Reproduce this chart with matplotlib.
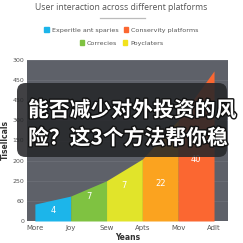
import matplotlib
matplotlib.use('Agg')
import matplotlib.pyplot as plt
from matplotlib.patches import FancyBboxPatch, Patch
import matplotlib.patheffects as pe

categories = ['More', 'Joy', 'Sew', 'Apts', 'Mov', 'Adlt']
values = [42, 62, 100, 154, 250, 373]
seg_labels = ['4', '7', '7', '22', '40']
label_y = [25, 60, 89, 92, 154]
seg_colors = ['#1cb5ea', '#7fc241', '#e1e42a', '#fba31f', '#fb6731']
ytick_vals = [0, 50, 100, 150, 200, 250, 300, 350, 400]
ytick_labels = ['0', '60', '250', '200', '150', '300', '450', '450', '300']
legend_row1 = [('Experitle ant sparies', '#1cb5ea'), ('Conservity platforms', '#fb6731')]
legend_row2 = [('Correcies', '#7fc241'), ('Poyclaters', '#f2e21c')]
overlay_lines = ['能否减少对外投资的风', '险？这3个方法帮你稳']

W = 243
fig = plt.figure(figsize=(2.43, 2.43), dpi=100)
fig.patch.set_facecolor('white')

ax = fig.add_axes([27 / W, 1 - 221 / W, 201 / W, 161 / W])
ax.set_facecolor('#5e6169')
xs = list(range(len(categories)))
for i in range(len(seg_colors)):
    ax.fill_between([xs[i], xs[i + 1]], [values[i], values[i + 1]], color=seg_colors[i], lw=0, zorder=2)
    ax.text(xs[i] + 0.5, label_y[i], seg_labels[i], color='white', fontsize=6,
            ha='center', va='center', zorder=3)
ax.set_xlim(-0.22, 5.39)
ax.set_ylim(0, 400)
ax.set_xticks(xs)
ax.set_xticklabels(categories)
ax.set_yticks(ytick_vals)
ax.set_yticklabels(ytick_labels)
ax.tick_params(length=0, labelsize=4.5, labelcolor='#555555', pad=2)
ax.tick_params(axis='x', labelsize=5, pad=3)
ax.grid(axis='y', color='#6c6f77', lw=0.6, zorder=1)
ax.set_axisbelow(True)
for s in ax.spines.values():
    s.set_visible(False)
ax.set_xlabel('Yeans', fontsize=5.5, fontweight='bold', color='#333333', labelpad=1)
ax.set_ylabel('Tisellcals', fontsize=5.5, fontweight='bold', color='#333333', labelpad=2)

# title and underline
fig.text(0.5, 1 - 8 / W, 'User interaction across different platforms', ha='center', va='center',
         fontsize=6.2, color='#555555', family='Open Sans')
fig.add_artist(plt.Line2D([100 / W, 145 / W], [1 - 18 / W] * 2, color='#bbbbbb', lw=0.9))

# legend rows
for row, yy in [(legend_row1, 30), (legend_row2, 43)]:
    handles = [Patch(color=c, label=t) for t, c in row]
    fig.legend(handles=handles, loc='center', bbox_to_anchor=(0.5, 1 - yy / W), ncol=2,
               frameon=False, fontsize=4.6, handlelength=0.7, handleheight=0.7,
               handletextpad=0.4, columnspacing=0.9, labelcolor='#555555')

# dark overlay with headline
box = FancyBboxPatch((17 / W, 1 - 157 / W), 210 / W, 74 / W,
                     boxstyle='round,pad=0,rounding_size=0.035',
                     transform=fig.transFigure, facecolor='#26272a', alpha=0.88,
                     edgecolor='none', zorder=10)
fig.add_artist(box)
for line, yy in zip(overlay_lines, [110, 138]):
    fig.text(28 / W, 1 - yy / W, line, ha='left', va='center', fontsize=15, color='white',
             fontweight='bold', family=['Noto Sans CJK SC', 'DejaVu Sans'], zorder=11,
             path_effects=[pe.withStroke(linewidth=2, foreground='#111111')])

fig.savefig('out.png', dpi=100)
